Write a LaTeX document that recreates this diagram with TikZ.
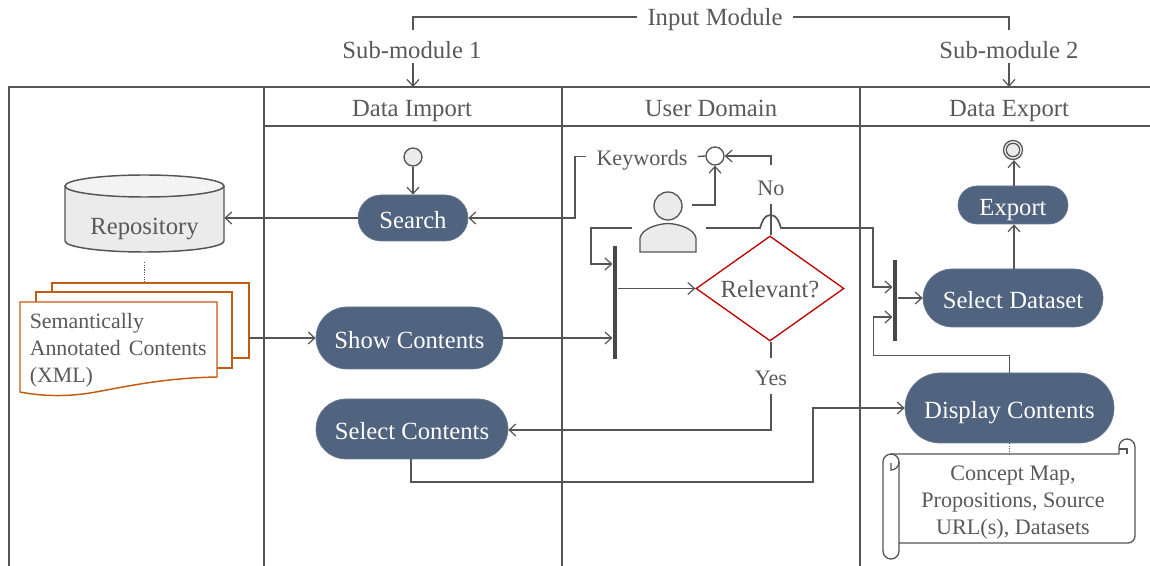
\documentclass[tikz,border=0pt]{standalone}
\usepackage{fontspec}
\setmainfont{Liberation Serif}
\usetikzlibrary{arrows.meta,shapes.geometric,shapes.misc}
\definecolor{ink}{HTML}{555555}
\definecolor{txt}{HTML}{595959}
\definecolor{pillc}{HTML}{50637F}
\definecolor{light}{HTML}{EBEBEB}
\definecolor{lighter}{HTML}{F3F3F3}
\definecolor{docc}{HTML}{C55A11}
\definecolor{redc}{HTML}{C00000}
\def\px{0.75pt}
\tikzset{
  x=0.75pt,y=-0.75pt,
  every node/.style={font=\fontsize{18.5}{20.25}\selectfont,text=txt},
  smalltxt/.style={font=\fontsize{16.6}{20.25}\selectfont},
  doctxtfont/.style={font=\fontsize{16.4}{20.25}\selectfont},
  line/.style={draw=ink,line width=1pt},
  arr/.style={line,-{Straight Barb[length=5pt,width=9pt,line width=0.9pt]}},
  lane/.style={draw=ink,line width=1.1pt},
  lbl/.style={inner sep=0pt,text height=16pt,text depth=3.1pt},
  gaplbl/.style={fill=white,inner xsep=10*\px,inner ysep=0pt,text height=16pt,text depth=3.1pt},
  pill/.style={rounded rectangle,fill=pillc,draw=pillc!85!white,line width=0.5pt,text=white,inner sep=0pt,text height=19pt,text depth=3.1pt},
  barnode/.style={rectangle,fill=ink!85!black,inner sep=0pt,minimum width=3.4pt},
  circ/.style={circle,draw=ink,line width=1pt,inner sep=0pt},
  docsheet/.style={draw=docc,fill=white,line width=1.1pt},
  scrollline/.style={draw=ink,line width=1pt,fill=white,line join=round},
}
\begin{document}
\begin{tikzpicture}
\useasboundingbox (0,0) rectangle (1150,566);
% lanes
\coordinate (laneA) at (413,87);
\coordinate (laneB) at (1009,87);
\draw[lane] (9,566) -- (9,87) -- (1150,87);
\draw[lane] (264,87) -- (264,566);
\draw[lane] (562,87) -- (562,566);
\draw[lane] (860,87) -- (860,566);
\draw[lane] (264,126) -- (1150,126);
\node[lbl] (hA) at (412,108) {Data Import};
\node[lbl] (hB) at (711,108) {User Domain};
\node[lbl] (hC) at (1009,108) {Data Export};
% top bracket
\node[gaplbl] (inputm) at (715,17) {Input Module};
\node[lbl] (subA) at (412,50) {Sub-module 1};
\node[lbl] (subB) at (1009,50) {Sub-module 2};
\coordinate (brA) at (413,30);
\coordinate (brB) at (1009,30);
\draw[line] (brA) |- (inputm.west);
\draw[line] (brB) |- (inputm.east);
\draw[arr] (subA.south -| laneA) -- (laneA);
\draw[arr] (subB.south -| laneB) -- (laneB);
% repository
\fill[light] (65,186) -- (65,241) arc[x radius=79.5,y radius=11,start angle=180,end angle=0] -- (224,186) -- cycle;
\draw[line,line width=1.1pt] (65,186) -- (65,241) arc[x radius=79.5,y radius=11,start angle=180,end angle=0] -- (224,186);
\draw[line,line width=1.1pt,fill=lighter] (144.5,186) ellipse[x radius=79.5,y radius=11];
\node[minimum width=159*\px,minimum height=87*\px,inner sep=0pt] (repo) at (144.5,218.5) {};
\node[lbl] (repotxt) at (144.5,226) {Repository};
\coordinate (dotend) at (144.5,283);
\draw[draw=ink,densely dotted,line width=0.8pt] (repo.south) -- (dotend);
% documents
\draw[docsheet] (52,283) -- (249,283) -- (249,358) -- (52,358) -- cycle;
\draw[docsheet] (36,292) -- (232,292) -- (232,368) -- (36,368) -- cycle;
\draw[docsheet] (20,302) -- (217,302) -- (217,377) .. controls (160,378) and (120,388) .. (90,393) .. controls (65,397) and (40,396) .. (20,392) -- cycle;
\node[anchor=north west,inner sep=0pt,align=left,doctxtfont] (doctxt) at (29.5,313) {Semantically\\Annotated\hspace{2pt} Contents\\(XML)};
\coordinate (docout) at (249,338);
% pills
\node[circ,fill=light,minimum size=18*\px] (start) at (413,157) {};
\node[pill,minimum width=110*\px,minimum height=46*\px] (search) at (413,218) {Search};
\node[pill,minimum width=187*\px,minimum height=62*\px] (showc) at (409.5,338) {Show Contents};
\node[pill,minimum width=192*\px,minimum height=60*\px] (selc) at (412,429) {Select Contents};
\node[pill,minimum width=180*\px,minimum height=58*\px] (seld) at (1013,298) {Select Dataset};
\node[pill,minimum width=110*\px,minimum height=38*\px] (export) at (1013,205) {Export};
\node[pill,minimum width=209*\px,minimum height=70*\px] (disp) at (1009.5,408) {Display Contents};
\node[circ,minimum size=19*\px] (final) at (1013,150) {};
\node[circ,fill=light,minimum size=13.5*\px] (finalin) at (1013,150) {};
% bars
\node[barnode,minimum height=113*\px] (barA) at (615,302.5) {};
\node[barnode,minimum height=81*\px] (barB) at (895,300.5) {};
% decision
\node[diamond,draw=redc,line width=1pt,minimum width=148*\px,minimum height=105*\px,inner sep=0pt,aspect=1.41,text height=16.5pt,text depth=2.6pt] (rel) at (770,288.5) {Relevant?};
% keywords etc
\node[circ,minimum size=18*\px] (merge) at (715,156) {};
% person
\node[circ,fill=light,minimum size=28*\px] (head) at (668,206) {};
\draw[line,fill=light] (640,252) -- (640,238) .. controls (642,229) and (656,224) .. (668,223.5) .. controls (680,224) and (694,229) .. (696,238) -- (696,252) -- cycle;
\coordinate (uR) at (692,205);
\coordinate (uL) at (632,228);
\coordinate (uD) at (706,228);
\coordinate (uLb) at (591,228);
\coordinate (kwb) at (575,218);
\coordinate (noC) at (771,156);
\coordinate (yesC) at (771,430);
% connectors
\draw[arr] (start.south) -- (start.south |- search.north);
\draw[arr] (search.west) -- (repo.east |- search.west);
\node[gaplbl,smalltxt] (kw) at (642,156.5) {Keywords};
\draw[line] (merge.west) -- (kw.east);
\draw[arr] (kw.west) -| (kwb) -- (search.east);
\draw[arr] (uR) -| (merge.south);
\draw[arr] (uL) -- (uLb) |- (barA.west |- 0,264);
\draw[arr] (showc.east) -- (showc.east -| barA.west);
\draw[arr] (barA.east |- rel.west) -- (rel.west);
\draw[arr] (docout) -- (showc.west);
% No / Yes
\coordinate (noBot) at (771,204);
\coordinate (noTop) at (771,165);
\coordinate (yesTop) at (771,358);
\coordinate (yesBot) at (771,394);
\node[lbl,smalltxt] (no) at (771,187) {No};
\node[lbl,smalltxt] (yes) at (771,377) {Yes};
\draw[line] (rel.north -| noC) -- (noBot);
\draw[arr] (noTop) -- (noC) -- (merge.east);
\draw[line] (rel.south -| noC) -- (yesTop);
\draw[arr] (yesBot) -- (yesC) -- (selc.east |- yesC);
% crossing line
\coordinate (jA) at (760,228);
\coordinate (jB) at (781,228);
\coordinate (sdA) at (873,228);
\coordinate (sdB) at (873,287);
\draw[arr,line width=1.3pt] (uD) -- (jA) .. controls (762,222) and (764,215) .. (770.5,215) .. controls (777,215) and (779,222) .. (jB) -- (sdA) -- (sdB) -- (barB.west |- sdB);
\draw[arr] (barB.east |- seld.west) -- (seld.west);
\draw[arr] (seld.north -| 1014,0) -- (export.south -| 1014,0);
\draw[arr] (export.north -| 1014,0) -- (final.south -| 1014,0);
\coordinate (dpA) at (1009.5,355.5);
\coordinate (dpB) at (873.5,355.5);
\coordinate (dpC) at (873.5,317);
\draw[arr] (disp.north) -- (dpA) -- (dpB) -- (dpC) -- (barB.west |- dpC);
\coordinate (scA) at (411,482);
\coordinate (scB) at (813,482);
\coordinate (scC) at (813,408);
\draw[arr] (selc.south -| scA) -- (scA) -- (scB) -- (scC) -- (disp.west);
% scroll
\coordinate (scrolltop) at (1009.5,454);
\draw[draw=ink,densely dotted,line width=0.8pt] (disp.south) -- (scrolltop);
\draw[scrollline] (899,543) -- (1128,543) arc[radius=7,start angle=90,end angle=0] -- (1135,447) arc[radius=8,start angle=0,end angle=-180] -- (1119,454) -- (891,454) arc[radius=8,start angle=-90,end angle=-180] -- (883,551) arc[radius=8,start angle=180,end angle=0] -- (899,462) -- cycle;
\draw[line] (899,462) arc[radius=8,start angle=0,end angle=90] -- (891,463);
\draw[line] (891,454) arc[radius=8,start angle=-90,end angle=0];
\draw[line] (1119,449) -- (1127,449) -- (1127,454);
\node[align=center,inner sep=0pt,smalltxt] (scrolltxt) at (1013,503) {Concept Map,\\Propositions, Source\\URL(s), Datasets};
\end{tikzpicture}
\end{document}
